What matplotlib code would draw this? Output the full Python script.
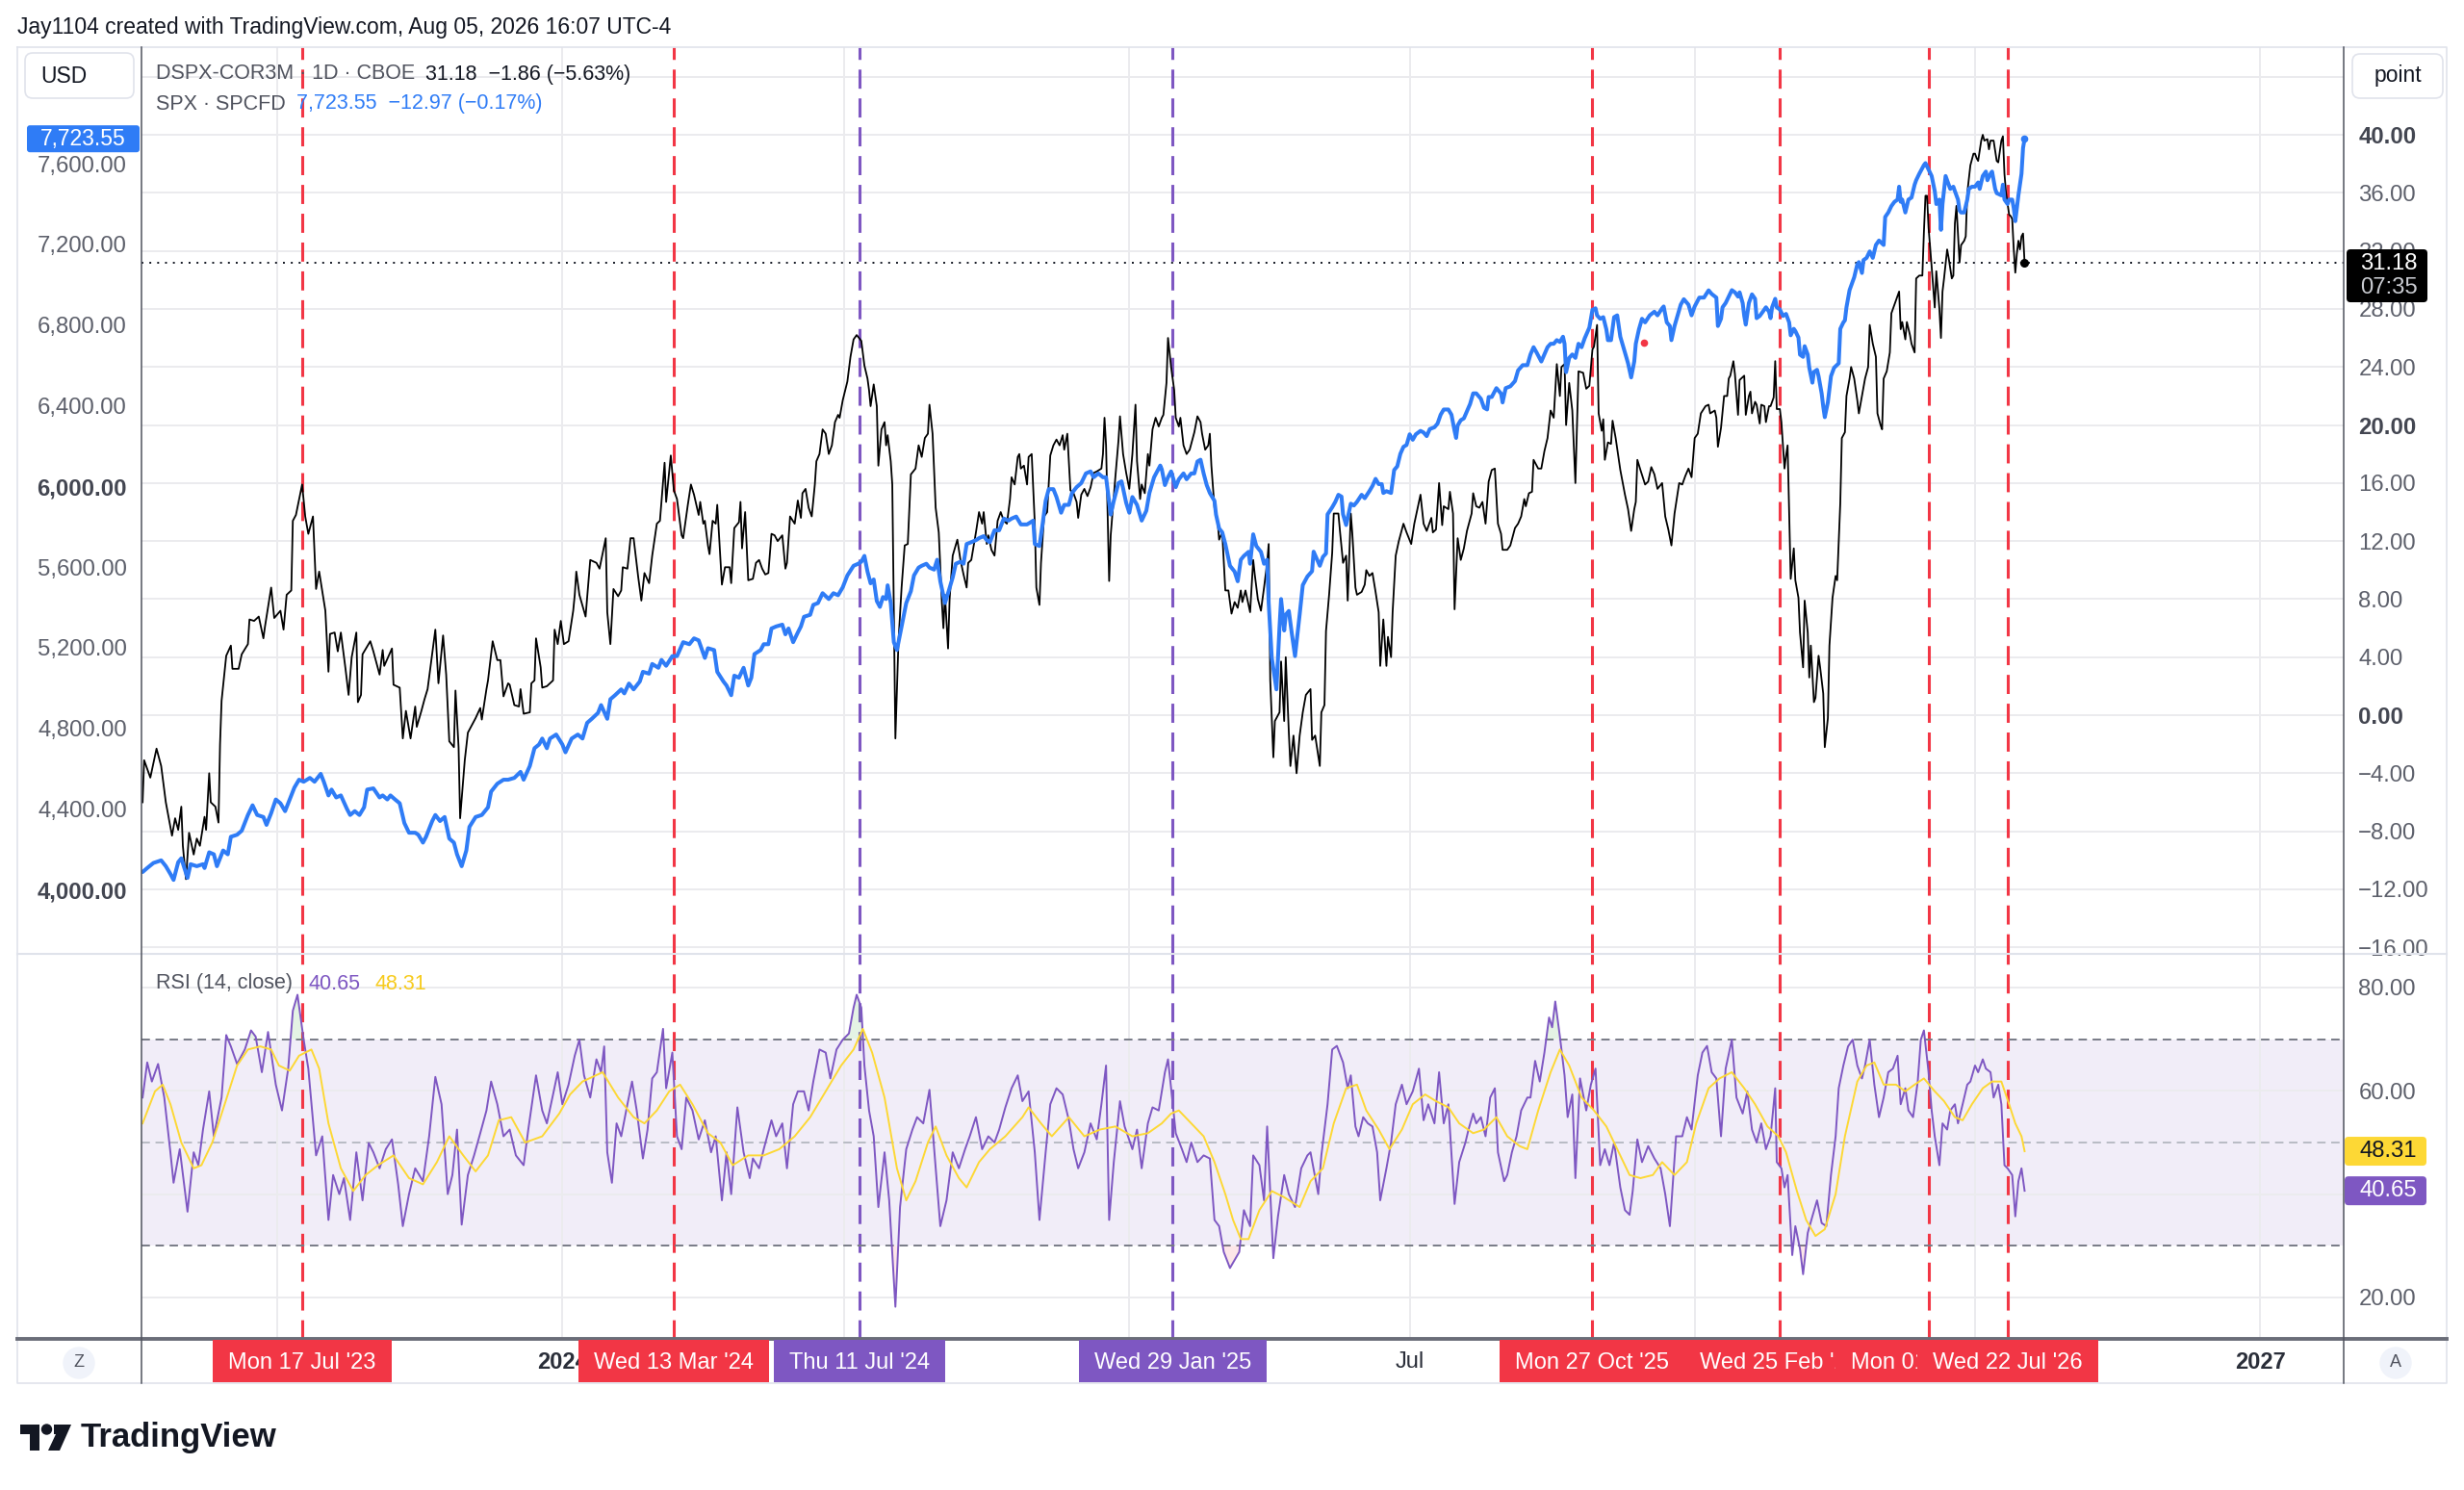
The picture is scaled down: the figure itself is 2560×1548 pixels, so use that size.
import numpy as np
import pandas as pd
import matplotlib
matplotlib.use("Agg")
import matplotlib.pyplot as plt
import matplotlib.dates as mdates
from matplotlib.lines import Line2D
from matplotlib.patches import Rectangle, FancyBboxPatch, Circle, Polygon
from matplotlib.text import Annotation
from matplotlib.transforms import IdentityTransform

# ---------------------------------------------------------------- data
# DSPX-COR3M (right scale, points)
dspx_dates = [
    "2023-04-05","2023-04-06","2023-04-10","2023-04-14","2023-04-17","2023-04-20","2023-04-24","2023-04-26","2023-04-28","2023-04-30",
    "2023-05-01","2023-05-03","2023-05-05","2023-05-08","2023-05-10","2023-05-12","2023-05-15","2023-05-16","2023-05-18","2023-05-19","2023-05-22","2023-05-24","2023-05-25","2023-05-26","2023-05-29",
    "2023-06-01","2023-06-02","2023-06-06","2023-06-08","2023-06-12","2023-06-13","2023-06-16","2023-06-19","2023-06-22","2023-06-23","2023-06-27","2023-06-29",
    "2023-07-03","2023-07-05","2023-07-07","2023-07-10","2023-07-11","2023-07-13","2023-07-17","2023-07-19","2023-07-21","2023-07-24","2023-07-26","2023-07-28",
    "2023-08-01","2023-08-03","2023-08-04","2023-08-07","2023-08-09","2023-08-11","2023-08-14","2023-08-16","2023-08-18","2023-08-21","2023-08-22","2023-08-24","2023-08-25","2023-08-30",
    "2023-09-01","2023-09-05","2023-09-07","2023-09-08","2023-09-13","2023-09-14","2023-09-18","2023-09-20","2023-09-22","2023-09-25","2023-09-28","2023-09-29",
    "2023-10-02","2023-10-04","2023-10-06","2023-10-11","2023-10-13","2023-10-16","2023-10-18","2023-10-20","2023-10-23","2023-10-24","2023-10-26","2023-10-27","2023-10-30",
    "2023-11-01","2023-11-06","2023-11-09","2023-11-10","2023-11-13","2023-11-14","2023-11-17","2023-11-20","2023-11-22","2023-11-24","2023-11-27","2023-11-28",
    "2023-12-01","2023-12-04","2023-12-05","2023-12-07","2023-12-11","2023-12-12","2023-12-14","2023-12-15","2023-12-18","2023-12-19","2023-12-22","2023-12-26","2023-12-27","2023-12-29","2023-12-31",
    "2024-01-02","2024-01-05","2024-01-08","2024-01-09","2024-01-10","2024-01-12","2024-01-16","2024-01-19","2024-01-23","2024-01-25","2024-01-29","2024-01-30",
    "2024-02-01","2024-02-03","2024-02-06","2024-02-08","2024-02-09","2024-02-12","2024-02-14","2024-02-16","2024-02-19","2024-02-21","2024-02-23","2024-02-26","2024-02-28",
    "2024-03-02","2024-03-04","2024-03-07","2024-03-08","2024-03-11","2024-03-13","2024-03-15","2024-03-18","2024-03-19","2024-03-22","2024-03-24","2024-03-26","2024-03-29","2024-03-30",
    "2024-04-01","2024-04-02","2024-04-04","2024-04-05","2024-04-07","2024-04-09","2024-04-10","2024-04-13","2024-04-15","2024-04-18","2024-04-19","2024-04-21","2024-04-24","2024-04-25","2024-04-26","2024-04-28","2024-04-30",
    "2024-05-03","2024-05-05","2024-05-07","2024-05-09","2024-05-11","2024-05-13","2024-05-15","2024-05-17","2024-05-19","2024-05-22","2024-05-24","2024-05-25","2024-05-27","2024-05-30",
    "2024-06-01","2024-06-03","2024-06-04","2024-06-06","2024-06-08","2024-06-10","2024-06-12","2024-06-13","2024-06-15","2024-06-17","2024-06-19","2024-06-21","2024-06-23","2024-06-25","2024-06-27","2024-06-28","2024-06-30",
    "2024-07-03","2024-07-05","2024-07-07","2024-07-09","2024-07-12","2024-07-14","2024-07-16","2024-07-17","2024-07-18","2024-07-20","2024-07-22","2024-07-23","2024-07-25","2024-07-27","2024-07-28","2024-07-29","2024-07-31",
    "2024-08-01","2024-08-03","2024-08-05","2024-08-07","2024-08-09","2024-08-11","2024-08-13","2024-08-16","2024-08-18","2024-08-20","2024-08-22","2024-08-24","2024-08-25","2024-08-27","2024-08-29","2024-08-31",
    "2024-09-02","2024-09-03","2024-09-04","2024-09-06","2024-09-07","2024-09-09","2024-09-12","2024-09-14","2024-09-16","2024-09-18","2024-09-19","2024-09-21","2024-09-24","2024-09-26","2024-09-28","2024-09-29",
    "2024-10-01","2024-10-02","2024-10-04","2024-10-06","2024-10-08","2024-10-10","2024-10-12","2024-10-14","2024-10-16","2024-10-17","2024-10-19","2024-10-21","2024-10-22","2024-10-23","2024-10-25","2024-10-27","2024-10-28","2024-10-30",
    "2024-11-01","2024-11-02","2024-11-04","2024-11-05","2024-11-07","2024-11-09","2024-11-11","2024-11-13","2024-11-15","2024-11-17","2024-11-19","2024-11-20","2024-11-22","2024-11-24","2024-11-26","2024-11-28","2024-11-29",
    "2024-12-01","2024-12-03","2024-12-05","2024-12-07","2024-12-09","2024-12-11","2024-12-14","2024-12-15","2024-12-16","2024-12-17","2024-12-19","2024-12-20","2024-12-23","2024-12-25","2024-12-26","2024-12-28","2024-12-30",
    "2025-01-01","2025-01-03","2025-01-05","2025-01-06","2025-01-08","2025-01-09","2025-01-11","2025-01-13","2025-01-14","2025-01-16","2025-01-18","2025-01-20","2025-01-22","2025-01-23","2025-01-25","2025-01-26","2025-01-28","2025-01-30","2025-01-31",
    "2025-02-02","2025-02-03","2025-02-05","2025-02-07","2025-02-09","2025-02-11","2025-02-12","2025-02-14","2025-02-16","2025-02-17","2025-02-19","2025-02-21","2025-02-22","2025-02-23","2025-02-25","2025-02-27","2025-02-28",
    "2025-03-02","2025-03-04","2025-03-06","2025-03-08","2025-03-10","2025-03-12","2025-03-14","2025-03-15","2025-03-17","2025-03-20","2025-03-22","2025-03-23","2025-03-25","2025-03-27","2025-03-29","2025-03-31",
    "2025-04-01","2025-04-02","2025-04-04","2025-04-05","2025-04-08","2025-04-09","2025-04-11","2025-04-12","2025-04-14","2025-04-15","2025-04-17","2025-04-19","2025-04-21","2025-04-23","2025-04-25","2025-04-28","2025-04-29",
    "2025-05-01","2025-05-04","2025-05-05","2025-05-07","2025-05-08","2025-05-10","2025-05-12","2025-05-13","2025-05-16","2025-05-17","2025-05-19","2025-05-21","2025-05-22","2025-05-24","2025-05-25","2025-05-27","2025-05-28","2025-05-31",
    "2025-06-02","2025-06-03","2025-06-05","2025-06-07","2025-06-09","2025-06-11","2025-06-12","2025-06-14","2025-06-16","2025-06-17","2025-06-19","2025-06-20","2025-06-22","2025-06-24","2025-06-27","2025-06-29",
    "2025-07-02","2025-07-04","2025-07-06","2025-07-08","2025-07-10","2025-07-12","2025-07-15","2025-07-16","2025-07-18","2025-07-20","2025-07-22","2025-07-23","2025-07-26","2025-07-27","2025-07-29","2025-07-30",
    "2025-08-01","2025-08-03","2025-08-05","2025-08-07","2025-08-10","2025-08-11","2025-08-13","2025-08-15","2025-08-17","2025-08-19","2025-08-21","2025-08-23","2025-08-25","2025-08-27","2025-08-29","2025-08-30",
    "2025-09-02","2025-09-04","2025-09-07","2025-09-09","2025-09-11","2025-09-13","2025-09-14","2025-09-16","2025-09-18","2025-09-19","2025-09-22","2025-09-24","2025-09-26","2025-09-28","2025-09-30",
    "2025-10-02","2025-10-04","2025-10-06","2025-10-07","2025-10-09","2025-10-10","2025-10-12","2025-10-14","2025-10-16","2025-10-18","2025-10-21","2025-10-23","2025-10-25","2025-10-27","2025-10-28","2025-10-30","2025-10-31",
    "2025-11-02","2025-11-03","2025-11-04","2025-11-06","2025-11-08","2025-11-09","2025-11-11","2025-11-14","2025-11-17","2025-11-19","2025-11-21","2025-11-23","2025-11-24","2025-11-25","2025-11-27","2025-11-30",
    "2025-12-02","2025-12-04","2025-12-06","2025-12-08","2025-12-11","2025-12-13","2025-12-15","2025-12-17","2025-12-19","2025-12-22","2025-12-24","2025-12-26","2025-12-28","2025-12-30",
    "2026-01-01","2026-01-03","2026-01-05","2026-01-08","2026-01-10","2026-01-11","2026-01-14","2026-01-15","2026-01-16","2026-01-18","2026-01-20","2026-01-22","2026-01-23","2026-01-24","2026-01-26","2026-01-27","2026-01-29","2026-01-30","2026-01-31",
    "2026-02-02","2026-02-03","2026-02-05","2026-02-06","2026-02-07","2026-02-09","2026-02-10","2026-02-12","2026-02-13","2026-02-15","2026-02-16","2026-02-18","2026-02-19","2026-02-21","2026-02-22","2026-02-23","2026-02-25","2026-02-26","2026-02-28",
    "2026-03-01","2026-03-02","2026-03-04","2026-03-06","2026-03-07","2026-03-09","2026-03-10","2026-03-12","2026-03-13","2026-03-15","2026-03-16","2026-03-17","2026-03-19","2026-03-20","2026-03-22","2026-03-23","2026-03-25","2026-03-26","2026-03-28","2026-03-29","2026-03-31",
    "2026-04-02","2026-04-03","2026-04-05","2026-04-06","2026-04-08","2026-04-09","2026-04-11","2026-04-12","2026-04-14","2026-04-16","2026-04-17","2026-04-19","2026-04-20","2026-04-21","2026-04-23","2026-04-24","2026-04-26","2026-04-28","2026-04-29",
    "2026-05-01","2026-05-02","2026-05-03","2026-05-05","2026-05-07","2026-05-08","2026-05-10","2026-05-13","2026-05-14","2026-05-15","2026-05-17","2026-05-18","2026-05-20","2026-05-21","2026-05-23","2026-05-24","2026-05-26","2026-05-28","2026-05-29","2026-05-30","2026-05-31",
    "2026-06-01","2026-06-03","2026-06-05","2026-06-06","2026-06-08","2026-06-09","2026-06-10","2026-06-11","2026-06-13","2026-06-14","2026-06-16","2026-06-17","2026-06-18","2026-06-19","2026-06-21","2026-06-22","2026-06-24","2026-06-25","2026-06-26","2026-06-28","2026-06-30",
    "2026-07-01","2026-07-02","2026-07-03","2026-07-05","2026-07-06","2026-07-07","2026-07-09","2026-07-10","2026-07-11","2026-07-13","2026-07-15","2026-07-16","2026-07-18","2026-07-19","2026-07-20","2026-07-21","2026-07-23","2026-07-24","2026-07-25","2026-07-26","2026-07-27","2026-07-28","2026-07-29","2026-07-30","2026-07-31",
    "2026-08-01","2026-08-02",
]
dspx_values = [
    -6.0,-3.1,-4.3,-2.3,-3.5,-6.0,-8.3,-7.1,-7.9,-6.3,
    -9.0,-11.3,-8.1,-9.6,-8.5,-9.0,-7.0,-7.9,-4.0,-6.0,-6.3,-7.4,-2.0,1.0,4.1,
    4.8,3.2,3.2,4.2,4.9,6.6,6.5,6.8,5.3,6.1,8.8,6.7,
    7.2,5.9,8.3,8.6,13.4,13.8,15.9,13.7,12.5,13.7,8.7,9.9,
    7.2,3.0,5.6,5.7,4.4,5.7,3.2,1.4,4.0,5.7,0.9,1.4,4.2,5.1,
    4.4,2.8,4.5,3.4,4.6,2.1,1.9,-1.6,0.3,-1.6,0.6,-0.8,
    0.3,1.1,1.8,5.9,2.2,5.5,2.8,-1.8,-2.2,1.7,-2.2,-7.1,-3.1,
    -1.2,-0.2,0.5,-0.3,1.8,2.4,5.1,3.8,3.8,1.3,2.2,2.1,
    0.7,0.6,1.8,0.1,0.2,2.2,2.4,5.3,3.3,1.9,2.0,2.4,5.9,4.9,6.5,
    4.9,5.1,7.2,8.3,9.9,8.3,6.8,10.7,10.5,10.1,12.2,7.1,
    4.9,8.7,8.2,8.6,10.2,10.1,12.2,12.2,9.5,7.9,9.8,9.1,11.0,
    13.2,13.4,17.4,14.7,17.9,15.5,14.9,12.4,12.2,14.5,15.9,15.2,13.8,14.7,
    13.2,13.4,11.7,11.1,13.4,13.2,14.5,9.0,10.2,10.2,9.1,12.9,13.3,14.7,11.5,14.0,9.3,
    9.4,10.5,10.7,10.1,9.7,9.8,12.5,12.4,12.0,12.4,10.1,10.5,13.7,13.2,
    14.8,13.6,15.3,15.6,14.3,13.7,15.9,17.5,18.0,19.7,19.4,18.0,18.6,20.2,20.7,20.5,21.7,
    23.0,24.7,25.9,26.2,25.8,24.1,23.2,22.4,21.3,22.8,21.3,17.2,19.7,20.2,18.6,19.3,17.5,
    15.9,-1.6,5.1,8.8,11.7,11.8,16.6,17.0,18.6,17.8,19.1,19.4,21.4,19.4,14.3,12.6,
    7.8,6.0,8.3,4.6,8.0,11.0,12.1,10.7,9.7,8.8,10.5,10.7,12.6,14.0,13.2,14.0,
    11.8,12.4,11.4,11.0,13.4,14.0,13.4,13.2,14.9,16.4,15.9,17.8,18.0,17.0,17.2,15.9,17.8,18.0,
    13.2,8.8,7.6,10.5,13.7,14.0,17.9,18.6,19.0,18.6,19.3,18.3,19.4,15.5,15.3,14.7,13.6,
    15.2,15.6,15.1,15.7,16.7,16.8,17.0,18.0,20.5,18.6,9.25,12.4,16.4,18.9,20.6,18.0,16.7,
    15.6,18.0,21.4,17.5,14.9,15.9,15.3,18.0,17.2,19.7,20.5,19.9,20.5,20.7,22.9,26.0,24.0,22.4,20.5,
    19.9,20.5,18.6,18.0,18.3,19.1,19.5,20.6,20.2,19.4,18.3,18.6,19.4,17.2,14.3,13.4,12.1,
    12.6,8.6,8.6,7.0,7.8,7.4,8.6,7.8,8.6,7.1,10.7,9.7,8.0,7.2,8.8,10.5,
    11.8,2.4,-2.9,-0.4,0.2,3.7,-0.4,4.0,-1.2,-3.5,-1.4,-4.0,-1.4,0.2,1.4,1.8,-1.7,
    -1.4,-3.5,0.2,0.7,5.8,8.3,11.2,13.9,13.9,12.7,10.5,11.0,7.9,13.9,12.5,8.8,8.3,8.5,
    9.0,10.0,9.6,9.8,8.5,7.1,3.4,6.6,3.4,5.4,4.0,7.1,11.0,12.0,13.2,12.6,
    11.8,13.2,14.2,15.2,13.2,12.7,13.6,12.6,12.8,16.0,13.1,14.4,14.2,15.4,13.9,7.3,
    12.2,10.7,11.5,12.7,13.9,15.3,14.4,14.3,14.7,13.2,16.1,16.9,17.0,13.2,12.5,11.4,
    11.4,11.7,12.9,13.2,13.7,14.9,14.4,15.3,15.4,17.6,17.0,17.0,18.2,19.1,21.0,
    20.5,24.2,22.0,24.0,24.2,20.0,22.9,21.0,16.0,23.7,23.6,22.5,22.7,25.2,25.4,26.9,20.8,
    19.6,20.4,17.6,18.8,18.7,20.3,19.1,16.9,15.2,14.2,12.7,14.2,14.7,17.6,16.9,15.9,
    16.1,17.1,16.6,15.6,16.0,13.7,12.8,11.7,13.9,16.0,15.9,16.5,17.0,16.4,
    19.1,19.4,20.8,21.3,21.4,20.8,21.0,20.5,18.5,19.8,22.0,22.0,23.2,23.4,24.4,23.5,20.7,23.1,23.2,
    23.4,20.7,22.0,22.3,20.8,21.6,21.4,20.1,21.4,21.3,20.2,21.3,21.3,21.9,24.4,21.1,21.1,20.2,17.0,
    17.9,18.6,9.4,11.5,9.3,8.1,5.7,3.3,7.9,5.7,2.6,4.8,0.9,1.2,4.1,3.3,1.5,-2.2,-0.2,4.8,8.1,
    9.6,9.3,14.6,19.1,19.5,22.0,23.2,24.0,23.2,21.7,20.8,22.0,22.6,23.2,24.0,26.9,25.6,24.7,20.8,
    20.0,19.7,23.2,23.7,25.0,27.7,28.3,29.2,26.6,27.1,25.9,27.1,26.2,25.6,25.0,30.1,30.3,30.3,33.3,35.8,35.8,
    33.6,30.9,28.1,30.6,28.0,26.0,29.2,30.1,32.1,31.5,30.1,30.3,33.9,35.1,31.2,32.4,32.7,33.0,36.0,37.9,38.7,
    38.7,38.4,38.2,39.6,40.0,39.6,39.7,39.0,39.6,39.6,38.2,38.1,39.6,39.9,37.3,36.0,34.5,34.4,34.2,32.1,30.5,31.8,32.7,32.1,33.0,
    33.2,31.18,
]

# SPX (left scale, USD)
spx_dates = [
    "2023-04-05","2023-04-08","2023-04-12","2023-04-17","2023-04-20","2023-04-23","2023-04-25","2023-04-28","2023-04-30",
    "2023-05-04","2023-05-06","2023-05-10","2023-05-14","2023-05-15","2023-05-18","2023-05-21","2023-05-23","2023-05-27","2023-05-30",
    "2023-06-01","2023-06-05","2023-06-08","2023-06-12","2023-06-15","2023-06-18","2023-06-22","2023-06-24","2023-06-27","2023-06-30",
    "2023-07-03","2023-07-06","2023-07-09","2023-07-12","2023-07-15","2023-07-18","2023-07-22","2023-07-25","2023-07-29","2023-07-31",
    "2023-08-03","2023-08-05","2023-08-08","2023-08-11","2023-08-15","2023-08-17","2023-08-20","2023-08-23","2023-08-26","2023-08-28",
    "2023-09-01","2023-09-05","2023-09-07","2023-09-10","2023-09-12","2023-09-15","2023-09-18","2023-09-21","2023-09-24","2023-09-28","2023-09-30",
    "2023-10-03","2023-10-05","2023-10-09","2023-10-11","2023-10-14","2023-10-17","2023-10-20","2023-10-23","2023-10-25","2023-10-28","2023-10-31",
    "2023-11-02","2023-11-06","2023-11-10","2023-11-14","2023-11-16","2023-11-20","2023-11-24","2023-11-27",
    "2023-12-01","2023-12-05","2023-12-07","2023-12-11","2023-12-14","2023-12-17","2023-12-19","2023-12-22","2023-12-24","2023-12-28",
    "2024-01-01","2024-01-03","2024-01-07","2024-01-11","2024-01-14","2024-01-17","2024-01-20","2024-01-24","2024-01-26","2024-01-30",
    "2024-02-01","2024-02-04","2024-02-08","2024-02-10","2024-02-13","2024-02-16","2024-02-20","2024-02-22","2024-02-26","2024-02-28",
    "2024-03-03","2024-03-05","2024-03-08","2024-03-12","2024-03-15","2024-03-19","2024-03-23","2024-03-26","2024-03-29",
    "2024-04-02","2024-04-04","2024-04-08","2024-04-10","2024-04-14","2024-04-16","2024-04-19","2024-04-21","2024-04-24","2024-04-27","2024-04-30",
    "2024-05-02","2024-05-04","2024-05-08","2024-05-10","2024-05-13","2024-05-15","2024-05-18","2024-05-22","2024-05-24","2024-05-26","2024-05-29",
    "2024-06-01","2024-06-03","2024-06-05","2024-06-09","2024-06-11","2024-06-14","2024-06-17","2024-06-21","2024-06-24","2024-06-27","2024-06-30",
    "2024-07-03","2024-07-07","2024-07-10","2024-07-12","2024-07-14","2024-07-16","2024-07-18","2024-07-20","2024-07-22","2024-07-24","2024-07-26","2024-07-28","2024-07-29","2024-07-31",
    "2024-08-02","2024-08-04","2024-08-06","2024-08-08","2024-08-10","2024-08-13","2024-08-15","2024-08-18","2024-08-20","2024-08-23","2024-08-25","2024-08-28","2024-08-30",
    "2024-09-01","2024-09-04","2024-09-06","2024-09-09","2024-09-11","2024-09-14","2024-09-16","2024-09-18","2024-09-21","2024-09-24","2024-09-26","2024-09-29",
    "2024-10-01","2024-10-03","2024-10-06","2024-10-09","2024-10-12","2024-10-15","2024-10-17","2024-10-20","2024-10-23","2024-10-27","2024-10-31",
    "2024-11-01","2024-11-04","2024-11-06","2024-11-08","2024-11-10","2024-11-13","2024-11-15","2024-11-18","2024-11-20","2024-11-23","2024-11-25","2024-11-28",
    "2024-12-01","2024-12-04","2024-12-07","2024-12-09","2024-12-12","2024-12-15","2024-12-17","2024-12-20","2024-12-22","2024-12-25","2024-12-27","2024-12-30",
    "2025-01-01","2025-01-03","2025-01-06","2025-01-09","2025-01-12","2025-01-14","2025-01-17","2025-01-21","2025-01-22","2025-01-24","2025-01-26","2025-01-28","2025-01-31",
    "2025-02-02","2025-02-05","2025-02-07","2025-02-10","2025-02-12","2025-02-14","2025-02-16","2025-02-18","2025-02-20","2025-02-22","2025-02-25","2025-02-26","2025-02-28",
    "2025-03-02","2025-03-04","2025-03-07","2025-03-10","2025-03-12","2025-03-14","2025-03-16","2025-03-19","2025-03-20","2025-03-22","2025-03-24","2025-03-27","2025-03-29","2025-03-31",
    "2025-04-01","2025-04-03","2025-04-06","2025-04-08","2025-04-09","2025-04-11","2025-04-12","2025-04-14","2025-04-16","2025-04-18","2025-04-21","2025-04-23","2025-04-26","2025-04-29","2025-04-30",
    "2025-05-02","2025-05-04","2025-05-06","2025-05-08","2025-05-09","2025-05-12","2025-05-14","2025-05-16","2025-05-18","2025-05-19","2025-05-21","2025-05-24","2025-05-26","2025-05-28","2025-05-31",
    "2025-06-02","2025-06-05","2025-06-07","2025-06-09","2025-06-11","2025-06-13","2025-06-14","2025-06-16","2025-06-19","2025-06-21","2025-06-23","2025-06-25","2025-06-27","2025-06-29",
    "2025-07-01","2025-07-03","2025-07-05","2025-07-08","2025-07-10","2025-07-12","2025-07-14","2025-07-17","2025-07-19","2025-07-21","2025-07-23","2025-07-26","2025-07-28","2025-07-30","2025-07-31",
    "2025-08-01","2025-08-03","2025-08-05","2025-08-07","2025-08-09","2025-08-11","2025-08-13","2025-08-15","2025-08-16","2025-08-18","2025-08-20","2025-08-21","2025-08-23","2025-08-26","2025-08-29","2025-08-30",
    "2025-09-01","2025-09-04","2025-09-07","2025-09-09","2025-09-12","2025-09-15","2025-09-17","2025-09-19","2025-09-21","2025-09-24","2025-09-26","2025-09-28","2025-09-30",
    "2025-10-02","2025-10-04","2025-10-06","2025-10-08","2025-10-09","2025-10-10","2025-10-12","2025-10-14","2025-10-16","2025-10-18","2025-10-20","2025-10-22","2025-10-25","2025-10-27","2025-10-29","2025-10-30",
    "2025-11-01","2025-11-03","2025-11-05","2025-11-06","2025-11-08","2025-11-10","2025-11-12","2025-11-14","2025-11-16","2025-11-18","2025-11-19","2025-11-21","2025-11-23","2025-11-24","2025-11-26","2025-11-28","2025-11-30",
    "2025-12-03","2025-12-06","2025-12-08","2025-12-11","2025-12-12","2025-12-14","2025-12-16","2025-12-17","2025-12-19","2025-12-21","2025-12-23","2025-12-25","2025-12-28","2025-12-30",
    "2026-01-01","2026-01-04","2026-01-07","2026-01-10","2026-01-12","2026-01-15","2026-01-16","2026-01-18","2026-01-19","2026-01-21","2026-01-23","2026-01-25","2026-01-27","2026-01-29","2026-01-30",
    "2026-02-01","2026-02-02","2026-02-03","2026-02-05","2026-02-07","2026-02-09","2026-02-10","2026-02-12","2026-02-14","2026-02-16","2026-02-18","2026-02-19","2026-02-20","2026-02-22","2026-02-23","2026-02-25","2026-02-27",
    "2026-03-01","2026-03-03","2026-03-04","2026-03-06","2026-03-07","2026-03-09","2026-03-10","2026-03-12","2026-03-13","2026-03-15","2026-03-16","2026-03-18","2026-03-19","2026-03-21","2026-03-22","2026-03-24","2026-03-25","2026-03-26","2026-03-28","2026-03-30",
    "2026-04-01","2026-04-04","2026-04-05","2026-04-07","2026-04-08","2026-04-09","2026-04-11","2026-04-12","2026-04-14","2026-04-16","2026-04-17","2026-04-19","2026-04-20","2026-04-22","2026-04-24","2026-04-26","2026-04-28","2026-04-30",
    "2026-05-03","2026-05-04","2026-05-06","2026-05-08","2026-05-10","2026-05-12","2026-05-13","2026-05-14","2026-05-15","2026-05-17","2026-05-19","2026-05-21","2026-05-23","2026-05-24","2026-05-26","2026-05-29","2026-05-30",
    "2026-06-01","2026-06-03","2026-06-05","2026-06-06","2026-06-08","2026-06-09","2026-06-10","2026-06-12","2026-06-13","2026-06-15","2026-06-17","2026-06-18","2026-06-20","2026-06-21","2026-06-22","2026-06-24","2026-06-26","2026-06-27","2026-06-29",
    "2026-07-01","2026-07-03","2026-07-04","2026-07-06","2026-07-08","2026-07-09","2026-07-11","2026-07-12","2026-07-14","2026-07-15","2026-07-18","2026-07-19","2026-07-20","2026-07-22","2026-07-23","2026-07-25","2026-07-26","2026-07-27","2026-07-28","2026-07-29","2026-07-31",
    "2026-08-01","2026-08-02",
]
spx_values = [
    4087,4107,4132,4145,4116,4077,4048,4136,4155,
    4058,4126,4116,4126,4107,4185,4175,4116,4194,4175,
    4262,4272,4292,4370,4418,4370,4360,4321,4379,4447,
    4428,4389,4447,4506,4545,4535,4554,4535,4574,4535,
    4467,4496,4457,4467,4399,4370,4389,4370,4408,4496,
    4502,4457,4467,4447,4467,4447,4428,4330,4282,4282,4272,
    4233,4262,4340,4370,4340,4360,4253,4233,4175,4116,4194,
    4311,4360,4370,4408,4486,4525,4545,4545,
    4554,4584,4545,4613,4701,4720,4749,4701,4749,4769,
    4720,4681,4749,4769,4749,4827,4847,4876,4915,4847,
    4944,4964,4993,4973,5022,4993,5032,5080,5071,5119,
    5100,5139,5110,5158,5158,5227,5217,5246,5236,
    5149,5197,5188,5080,5032,5012,4964,5061,5051,5100,5012,
    5051,5168,5188,5217,5217,5295,5305,5314,5266,5295,5227,
    5275,5305,5353,5363,5412,5421,5470,5441,5470,5460,5499,
    5558,5606,5616,5626,5655,5577,5519,5538,5431,5402,5451,5441,5509,5421,
    5227,5188,5266,5343,5421,5480,5558,5597,5606,5616,5597,5587,5636,
    5529,5421,5470,5548,5616,5626,5616,5714,5723,5733,5743,5753,
    5733,5723,5782,5782,5840,5830,5840,5850,5811,5811,5830,
    5714,5704,5811,5928,5986,5986,5947,5869,5908,5908,5967,5996,
    6016,6064,6074,6045,6064,6045,6045,5860,5928,6016,6025,5918,
    5869,5947,5908,5830,5879,5967,6045,6103,6084,6006,6045,6074,5996,
    6035,6064,6035,6064,6064,6123,6132,6064,6006,5967,5928,5860,5791,
    5772,5714,5606,5577,5529,5636,5655,5675,5616,5762,5704,5675,5616,5636,
    5421,5149,4993,5305,5441,5285,5363,5382,5266,5158,5365,5510,5553,5579,5676,
    5641,5606,5650,5667,5861,5896,5923,5958,5949,5861,5808,5914,5905,5923,5958,
    5941,5976,6002,6037,6011,6011,5967,5976,5967,6081,6099,6161,6196,6205,
    6258,6231,6258,6275,6267,6249,6284,6293,6311,6355,6381,6381,6355,6275,6240,
    6302,6328,6337,6372,6408,6461,6461,6443,6434,6390,6381,6443,6443,6487,6460,6416,
    6487,6496,6522,6575,6601,6601,6654,6690,6663,6619,6654,6690,6707,
    6707,6725,6716,6742,6707,6566,6637,6654,6637,6707,6690,6734,6787,6875,6883,6848,
    6831,6839,6778,6725,6725,6839,6848,6742,6690,6637,6610,6540,6619,6707,6778,6831,6813,
    6848,6866,6848,6883,6892,6813,6795,6725,6795,6848,6901,6928,6901,6848,
    6892,6936,6936,6972,6954,6936,6795,6831,6888,6909,6941,6973,6962,6941,6962,
    6909,6845,6802,6909,6952,6930,6834,6845,6866,6888,6866,6834,6888,6930,6888,6877,6845,
    6855,6813,6749,6781,6770,6738,6653,6642,6695,6653,6588,6514,6567,6578,6546,6460,6396,6343,6417,6546,
    6588,6610,6781,6813,6823,6888,6973,6994,7037,7101,7112,7058,7122,7133,7165,7133,7197,7219,
    7197,7336,7358,7390,7411,7422,7486,7411,7422,7358,7422,7432,7496,7518,7550,7593,7603,
    7571,7539,7464,7400,7422,7272,7400,7539,7518,7475,7486,7464,7422,7368,7358,7358,7422,7475,7486,
    7486,7507,7475,7539,7561,7518,7550,7561,7475,7454,7443,7496,7422,7400,7422,7422,7379,7315,7379,7443,7550,
    7678,7723.55,
]

# RSI (14, close) and its moving average
rsi_dates = [
    "2023-04-05","2023-04-08","2023-04-11","2023-04-15","2023-04-19","2023-04-23","2023-04-25","2023-04-29",
    "2023-05-04","2023-05-08","2023-05-11","2023-05-14","2023-05-18","2023-05-21","2023-05-26","2023-05-29",
    "2023-06-01","2023-06-05","2023-06-10","2023-06-14","2023-06-17","2023-06-21","2023-06-25","2023-06-30",
    "2023-07-04","2023-07-08","2023-07-11","2023-07-14","2023-07-18","2023-07-21","2023-07-26","2023-07-30",
    "2023-08-03","2023-08-06","2023-08-10","2023-08-13","2023-08-17","2023-08-21","2023-08-25","2023-08-29",
    "2023-09-01","2023-09-05","2023-09-09","2023-09-13","2023-09-17","2023-09-20","2023-09-24","2023-09-28",
    "2023-10-03","2023-10-07","2023-10-11","2023-10-15","2023-10-19","2023-10-22","2023-10-25","2023-10-28",
    "2023-11-01","2023-11-05","2023-11-09","2023-11-13","2023-11-16","2023-11-20","2023-11-24","2023-11-28",
    "2023-12-02","2023-12-07","2023-12-10","2023-12-15","2023-12-19","2023-12-22","2023-12-26","2023-12-29",
    "2024-01-01","2024-01-05","2024-01-09","2024-01-12","2024-01-15","2024-01-19","2024-01-23","2024-01-26","2024-01-28","2024-01-30",
    "2024-02-02","2024-02-05","2024-02-08","2024-02-12","2024-02-15","2024-02-18","2024-02-22","2024-02-25","2024-02-28",
    "2024-03-02","2024-03-06","2024-03-08","2024-03-12","2024-03-15","2024-03-18","2024-03-21","2024-03-25","2024-03-29",
    "2024-04-02","2024-04-06","2024-04-09","2024-04-13","2024-04-16","2024-04-19","2024-04-23","2024-04-27",
    "2024-05-01","2024-05-03","2024-05-07","2024-05-10","2024-05-15","2024-05-18","2024-05-22","2024-05-25","2024-05-29",
    "2024-06-01","2024-06-05","2024-06-08","2024-06-11","2024-06-15","2024-06-19","2024-06-22","2024-06-26","2024-06-30",
    "2024-07-04","2024-07-07","2024-07-09","2024-07-12","2024-07-14","2024-07-17","2024-07-20","2024-07-23","2024-07-27","2024-07-30",
    "2024-08-03","2024-08-06","2024-08-10","2024-08-14","2024-08-17","2024-08-21","2024-08-25","2024-08-29",
    "2024-09-01","2024-09-05","2024-09-09","2024-09-13","2024-09-17","2024-09-20","2024-09-24","2024-09-28",
    "2024-10-02","2024-10-06","2024-10-09","2024-10-13","2024-10-17","2024-10-21","2024-10-24","2024-10-28",
    "2024-11-01","2024-11-04","2024-11-08","2024-11-11","2024-11-15","2024-11-19","2024-11-23","2024-11-26","2024-11-29",
    "2024-12-03","2024-12-07","2024-12-11","2024-12-14","2024-12-17","2024-12-19","2024-12-22","2024-12-26","2024-12-29",
    "2025-01-03","2025-01-06","2025-01-09","2025-01-13","2025-01-16","2025-01-20","2025-01-24","2025-01-26","2025-01-28","2025-01-31",
    "2025-02-04","2025-02-07","2025-02-10","2025-02-14","2025-02-18","2025-02-22","2025-02-25","2025-02-28",
    "2025-03-03","2025-03-07","2025-03-13","2025-03-16","2025-03-20","2025-03-22","2025-03-26","2025-03-29","2025-03-31",
    "2025-04-04","2025-04-07","2025-04-11","2025-04-14","2025-04-18","2025-04-22","2025-04-26","2025-04-28",
    "2025-05-03","2025-05-05","2025-05-09","2025-05-12","2025-05-15","2025-05-19","2025-05-22","2025-05-24","2025-05-27","2025-05-29",
    "2025-06-01","2025-06-04","2025-06-07","2025-06-10","2025-06-12","2025-06-16","2025-06-19","2025-06-22","2025-06-26","2025-06-29",
    "2025-07-03","2025-07-07","2025-07-10","2025-07-13","2025-07-17","2025-07-20","2025-07-23","2025-07-26","2025-07-30",
    "2025-08-02","2025-08-06","2025-08-08","2025-08-11","2025-08-13","2025-08-16","2025-08-19","2025-08-22","2025-08-25","2025-08-27","2025-08-31",
    "2025-09-02","2025-09-05","2025-09-08","2025-09-11","2025-09-15","2025-09-17","2025-09-20","2025-09-23","2025-09-26","2025-09-29",
    "2025-10-01","2025-10-03","2025-10-06","2025-10-09","2025-10-11","2025-10-14","2025-10-16","2025-10-19","2025-10-23","2025-10-26","2025-10-29",
    "2025-11-01","2025-11-04","2025-11-07","2025-11-10","2025-11-14","2025-11-17","2025-11-20","2025-11-22","2025-11-25","2025-11-28",
    "2025-12-02","2025-12-06","2025-12-10","2025-12-13","2025-12-16","2025-12-20","2025-12-24","2025-12-27","2025-12-30",
    "2026-01-03","2026-01-06","2026-01-09","2026-01-12","2026-01-15","2026-01-18","2026-01-21","2026-01-25","2026-01-28",
    "2026-02-01","2026-02-04","2026-02-07","2026-02-10","2026-02-13","2026-02-16","2026-02-19","2026-02-22","2026-02-23","2026-02-26","2026-02-28",
    "2026-03-02","2026-03-05","2026-03-07","2026-03-10","2026-03-12","2026-03-15","2026-03-18","2026-03-21","2026-03-24","2026-03-27","2026-03-30",
    "2026-04-02","2026-04-04","2026-04-07","2026-04-10","2026-04-13","2026-04-16","2026-04-19","2026-04-21","2026-04-24","2026-04-27","2026-04-30",
    "2026-05-03","2026-05-06","2026-05-09","2026-05-12","2026-05-14","2026-05-17","2026-05-19","2026-05-22","2026-05-25","2026-05-27","2026-05-29",
    "2026-06-01","2026-06-03","2026-06-05","2026-06-08","2026-06-10","2026-06-13","2026-06-15","2026-06-18","2026-06-20","2026-06-23","2026-06-26","2026-06-28",
    "2026-07-01","2026-07-03","2026-07-06","2026-07-08","2026-07-11","2026-07-13","2026-07-16","2026-07-18","2026-07-20","2026-07-22","2026-07-25","2026-07-27","2026-07-29","2026-07-31",
    "2026-08-02",
]
rsi_values = [
    58.7,65.5,61.8,65.2,58.7,48.0,42.2,48.7,
    36.6,48.1,45.6,52.5,59.9,51.2,58.7,70.8,
    68.6,65.2,68.0,71.7,70.5,63.6,71.4,61.2,
    56.2,64.3,75.5,78.6,69.9,64.3,47.5,51.2,
    35.0,43.7,40.0,43.1,35.0,48.1,38.8,49.9,
    48.1,45.0,48.7,50.6,41.9,33.8,40.0,45.0,
    42.5,51.2,62.7,57.4,40.0,43.7,52.5,34.1,
    43.7,47.5,51.8,56.2,61.8,57.4,51.2,52.5,
    47.5,45.6,52.5,63.0,56.2,53.7,59.3,63.6,
    57.4,61.2,66.8,69.9,63.0,58.7,66.1,63.6,68.6,48.1,
    42.2,53.7,51.2,57.4,61.8,56.2,46.9,52.5,62.4,
    63.6,72.0,60.5,67.4,51.2,48.7,58.7,56.2,50.6,
    54.3,48.1,51.2,38.8,48.1,40.0,56.8,48.1,
    43.1,46.9,45.0,48.7,54.3,51.2,53.7,45.0,57.4,
    59.9,59.9,56.2,61.8,68.0,67.4,62.4,68.0,69.9,
    71.1,76.1,78.6,76.1,64.9,56.2,51.2,37.5,48.1,38.8,
    18.2,37.5,48.7,52.5,54.9,53.7,60.2,45.0,
    33.8,38.8,48.1,45.0,48.7,51.2,54.9,48.7,
    51.2,50.0,52.5,56.8,60.5,63.0,58.0,59.9,
    48.1,35.0,48.1,57.4,60.5,59.3,54.3,48.7,45.0,
    48.1,53.7,50.6,57.4,64.9,35.0,46.2,58.0,53.1,
    48.7,52.5,45.0,53.7,56.8,56.2,63.6,66.1,60.5,51.8,
    48.7,46.2,50.0,46.2,47.5,46.9,35.0,33.8,
    28.8,25.7,28.8,36.9,33.8,47.5,45.6,38.8,53.1,
    27.6,35.7,43.7,40.0,37.5,45.0,47.5,48.1,
    40.0,47.5,57.4,68.0,68.7,65.5,60.5,63.0,53.1,51.2,
    54.9,53.7,53.1,48.1,38.8,45.0,50.0,57.4,61.2,57.4,
    59.9,64.3,54.3,57.4,53.7,63.6,53.7,57.4,38.1,
    46.2,50.0,52.5,55.6,53.7,54.9,51.2,58.7,60.5,48.1,42.5,
    43.7,48.1,51.2,56.2,58.7,58.7,65.8,61.8,67.4,74.2,
    72.3,77.3,70.5,63.0,54.9,59.3,43.1,62.4,56.2,61.2,64.3,
    45.6,48.7,45.6,50.0,41.3,36.9,36.0,40.6,50.6,46.2,
    49.3,46.9,45.0,40.0,33.8,51.2,51.2,54.9,52.5,
    63.0,67.4,68.7,63.6,62.4,51.2,64.3,69.9,58.7,
    55.6,59.9,52.5,50.0,53.7,48.7,51.2,60.5,46.2,45.0,41.3,
    43.7,28.2,33.8,29.4,24.5,32.5,35.7,38.8,34.4,33.8,43.7,
    51.2,60.5,64.9,68.6,69.9,64.9,62.4,64.9,69.9,61.2,54.9,
    58.7,63.6,64.3,66.8,57.4,60.5,56.2,54.9,61.8,69.9,71.7,
    63.6,56.2,51.2,45.6,53.7,52.5,56.2,57.4,53.7,57.4,61.2,61.8,
    64.9,63.6,66.1,64.3,63.6,58.7,61.2,57.4,45.6,45.0,43.7,35.7,42.5,45.0,
    40.65,
]
rsi_ma_dates = [
    "2023-04-05","2023-04-13","2023-04-18","2023-04-23","2023-04-30","2023-05-08","2023-05-13","2023-05-20","2023-05-28",
    "2023-06-05","2023-06-12","2023-06-20","2023-06-27","2023-07-02","2023-07-09","2023-07-15","2023-07-23","2023-07-28",
    "2023-08-03","2023-08-11","2023-08-19","2023-08-27","2023-09-04","2023-09-14","2023-09-24",
    "2023-10-03","2023-10-12","2023-10-20","2023-10-29","2023-11-06","2023-11-14","2023-11-21","2023-11-29",
    "2023-12-08","2023-12-19","2023-12-30","2024-01-06","2024-01-14","2024-01-27","2024-02-06","2024-02-16","2024-02-23",
    "2024-03-02","2024-03-10","2024-03-17","2024-03-25","2024-04-04","2024-04-12","2024-04-20","2024-04-30",
    "2024-05-10","2024-05-20","2024-05-30","2024-06-09","2024-06-19","2024-06-29",
    "2024-07-07","2024-07-13","2024-07-19","2024-07-27","2024-08-04","2024-08-10","2024-08-16","2024-08-24","2024-08-29",
    "2024-09-05","2024-09-13","2024-09-18","2024-09-26","2024-10-03","2024-10-13","2024-10-24","2024-10-28",
    "2024-11-05","2024-11-12","2024-11-23","2024-12-03","2024-12-13","2024-12-23",
    "2025-01-03","2025-01-13","2025-01-22","2025-01-28","2025-02-02","2025-02-10","2025-02-18","2025-02-25",
    "2025-03-04","2025-03-09","2025-03-14","2025-03-19","2025-03-26","2025-04-03","2025-04-11","2025-04-21","2025-04-28",
    "2025-05-06","2025-05-13","2025-05-21","2025-05-28","2025-06-03","2025-06-11","2025-06-18","2025-06-26",
    "2025-07-03","2025-07-11","2025-07-18","2025-07-26","2025-08-02","2025-08-11","2025-08-18","2025-08-26",
    "2025-09-02","2025-09-10","2025-09-15","2025-09-22","2025-09-30","2025-10-06","2025-10-12","2025-10-20","2025-10-28",
    "2025-11-05","2025-11-12","2025-11-20","2025-11-27","2025-12-05","2025-12-11","2025-12-19","2025-12-27",
    "2026-01-02","2026-01-10","2026-01-17","2026-01-25","2026-02-02","2026-02-09","2026-02-17","2026-02-24",
    "2026-03-01","2026-03-08","2026-03-14","2026-03-20","2026-03-26","2026-04-02","2026-04-08","2026-04-16","2026-04-22","2026-04-27",
    "2026-05-03","2026-05-11","2026-05-17","2026-05-23","2026-05-29","2026-06-05","2026-06-11","2026-06-18","2026-06-23","2026-06-29",
    "2026-07-06","2026-07-12","2026-07-18","2026-07-23","2026-07-27","2026-07-31","2026-08-02",
]
rsi_ma_values = [
    53.7,59.9,61.2,57.4,50.0,45.0,45.6,50.0,57.4,
    64.9,68.0,68.6,68.0,64.9,63.9,66.8,68.0,64.3,
    53.7,45.0,40.6,43.7,45.6,47.5,43.1,
    41.9,46.2,51.2,47.5,44.4,47.5,54.3,54.9,
    50.0,51.2,55.6,59.3,61.8,63.6,58.7,54.9,53.7,
    56.2,59.9,61.2,57.4,51.8,50.0,45.6,47.5,
    47.5,48.7,51.2,54.9,59.9,64.9,
    68.0,72.0,67.4,58.7,45.0,38.8,42.5,50.0,53.1,
    47.5,43.1,41.3,46.2,48.7,51.2,54.9,56.8,
    53.7,51.2,54.9,51.2,52.5,53.1,
    51.2,51.8,53.7,55.6,56.2,53.7,51.2,46.2,
    40.0,35.0,31.3,31.3,36.9,40.6,39.4,37.5,42.5,
    45.0,53.7,60.5,61.2,56.2,52.5,48.7,52.5,
    57.4,59.3,58.0,56.8,53.7,51.8,52.5,54.9,
    51.2,49.3,48.7,56.2,63.6,68.0,64.9,58.7,56.2,
    53.1,48.7,43.7,43.1,43.7,46.2,43.7,46.2,
    53.7,60.5,62.4,63.6,60.5,57.4,53.1,51.2,
    48.1,40.6,35.0,31.9,33.2,40.0,51.2,61.8,64.9,65.5,
    61.2,61.2,59.9,61.2,62.4,59.9,58.0,54.9,54.3,57.4,
    60.5,61.8,61.8,57.4,53.7,51.2,48.31,
]

# marked events (vertical lines and date tags)
event_dates = ["2023-07-17", "2024-03-13", "2024-07-11", "2025-01-29",
               "2025-10-27", "2026-02-25", "2026-06-01", "2026-07-22"]
event_labels = ["Mon 17 Jul '23", "Wed 13 Mar '24", "Thu 11 Jul '24", "Wed 29 Jan '25",
                "Mon 27 Oct '25", "Wed 25 Feb '26", "Mon 01 Jun '26", "Wed 22 Jul '26"]
event_kind = ["red", "red", "purple", "purple", "red", "red", "red", "red"]

# small event dot on the SPX line
flag_dates = ["2025-11-29"]
flag_values = [6711]

spx_ticks = [4000, 4400, 4800, 5200, 5600, 6000, 6400, 6800, 7200, 7600]
spx_bold = [4000, 6000]
dspx_ticks = [-16, -12, -8, -4, 0, 4, 8, 12, 16, 20, 24, 28, 32, 36, 40, 44]
dspx_bold = [0, 20, 40]
rsi_ticks = [20, 40, 60, 80]
time_ticks = ["2023-07-01", "2024-01-01", "2024-07-01", "2025-01-01",
              "2025-07-01", "2026-01-01", "2026-07-01", "2027-01-01"]
# labels fully covered by the date tags are left blank
time_labels = ["", "2024", "", "", "Jul", "", "", "2027"]

header = "Jay1104 created with TradingView.com, Aug 05, 2026 16:07 UTC-4"
dspx_name, dspx_quote = "DSPX-COR3M · 1D · CBOE", "31.18  −1.86 (−5.63%)"
spx_name, spx_quote = "SPX · SPCFD", "7,723.55  −12.97 (−0.17%)"
countdown = "07:35"

# ---------------------------------------------------------------- style
plt.rcParams["font.family"] = ["Liberation Sans", "DejaVu Sans"]
RED, PURPLE, BLUE, YELLOW = "#f23645", "#7e57c2", "#2f7cf6", "#fdd835"
GRID = "#ebebee"
AX_TXT = "#5d606b"
BOLD_TXT = "#434651"
FS = 15.5
AXFS = 17.2

W, H = 2560, 1548
fig = plt.figure(figsize=(W / 100, H / 100), dpi=100)
PIX = IdentityTransform()

L, R, TOP, MID, BOT, BASE = 147, 2435, 49, 990, 1391, 1437
FL, FR = 18, 2542


def num(v):
    return f"{v:,.2f}".replace("-", "\u2212")


def ptext(x, y, s, **kw):
    kw.setdefault("size", FS)
    return fig.text(x, H - y, s, transform=PIX, **kw)


def chain(prev, s, gap=8, **kw):
    kw.setdefault("size", FS)
    a = Annotation(s, xy=(1, 0), xycoords=prev, xytext=(gap, 0),
                   textcoords="offset points", ha="left", va="bottom", **kw)
    fig.add_artist(a)
    return a


def pline(xs, ys, **kw):
    fig.add_artist(Line2D(xs, [H - y for y in ys], transform=PIX, **kw))


def pbox(x0, y0, x1, y1, r=0, **kw):
    p = FancyBboxPatch((x0, H - y1), x1 - x0, y1 - y0,
                       boxstyle=f"round,pad=0,rounding_size={r}", transform=PIX, **kw)
    fig.add_artist(p)
    return p


ax = fig.add_axes([L / W, 1 - MID / H, (R - L) / W, (MID - TOP) / H])
ax_spx = ax.twinx()
ax_rsi = fig.add_axes([L / W, 1 - BOT / H, (R - L) / W, (BOT - MID) / H], sharex=ax)

dspx = pd.Series(dspx_values, index=pd.to_datetime(dspx_dates)).sort_index(kind="stable")
spx = pd.Series(spx_values, index=pd.to_datetime(spx_dates)).sort_index(kind="stable")
rsi = pd.Series(rsi_values, index=pd.to_datetime(rsi_dates)).sort_index(kind="stable")
rsi_ma = pd.Series(rsi_ma_values, index=pd.to_datetime(rsi_ma_dates)).sort_index(kind="stable")

x0, x1 = pd.Timestamp("2023-04-04 07:00"), pd.Timestamp("2027-02-24")
ax.set_xlim(x0, x1)
ax.set_ylim(-16.38, 46.04)
ax_spx.set_ylim(3686, 8178)
ax_rsi.set_ylim(11.98, 86.7)

for a in (ax, ax_spx, ax_rsi):
    for sp in a.spines.values():
        sp.set_visible(False)
    a.set_facecolor("none")

# x grid / ticks
ax.set_xticks(pd.to_datetime(time_ticks))
ax_rsi.set_xticklabels(time_labels)
ax.tick_params(axis="x", length=0, labelbottom=False)
ax_rsi.tick_params(axis="x", length=0, pad=9.5, labelsize=17, labelcolor="#2a2e39")
for lbl in ax_rsi.get_xticklabels():
    if lbl.get_text().isdigit():
        lbl.set_fontweight("bold")
ax.grid(axis="x", color=GRID, lw=1.4, zorder=0)
ax_rsi.grid(axis="x", color=GRID, lw=1.4, zorder=0)

# right scale: DSPX
ax.yaxis.tick_right()
ax.set_yticks(dspx_ticks)
ax.set_yticklabels([num(v) if v != 44 else "" for v in dspx_ticks])
ax.tick_params(axis="y", length=0, pad=11, labelsize=AXFS, labelcolor=AX_TXT)
for v, lbl in zip(dspx_ticks, ax.get_yticklabels()):
    if v in dspx_bold:
        lbl.set_fontweight("bold")
        lbl.set_color(BOLD_TXT)
ax.grid(axis="y", color=GRID, lw=1.4, zorder=0)
ax.set_axisbelow(True)

# left scale: SPX
ax_spx.yaxis.tick_left()
ax_spx.set_yticks(spx_ticks)
ax_spx.set_yticklabels([num(v) for v in spx_ticks])
ax_spx.tick_params(axis="y", length=0, pad=11, labelsize=AXFS, labelcolor=AX_TXT)
for v, lbl in zip(spx_ticks, ax_spx.get_yticklabels()):
    if v in spx_bold:
        lbl.set_fontweight("bold")
        lbl.set_color(BOLD_TXT)
ax_spx.tick_params(axis="x", length=0, labelbottom=False)

# RSI scale (the 40 label sits under the last-value tag, as in the screenshot)
ax_rsi.yaxis.tick_right()
ax_rsi.set_yticks(rsi_ticks)
ax_rsi.set_yticklabels([num(v) if v != 40 else "" for v in rsi_ticks])
ax_rsi.tick_params(axis="y", length=0, pad=11, labelsize=AXFS, labelcolor=AX_TXT)
ax_rsi.grid(axis="y", color=GRID, lw=1.4, zorder=0)
ax_rsi.set_axisbelow(True)

# event lines
dash = (0, (6.5, 3.3))
for d, k in zip(event_dates, event_kind):
    c = RED if k == "red" else PURPLE
    for a in (ax, ax_rsi):
        a.axvline(pd.Timestamp(d), color=c, lw=2.2, ls=dash, zorder=1)

# main series
ax.axhline(dspx.iloc[-1], color="#131722", lw=1.4, ls=(0, (1, 3.2)), zorder=2)
ax.plot(dspx.index, dspx.values, color="#000000", lw=1.3, zorder=3)
ax.plot(dspx.index[-1], dspx.iloc[-1], "o", color="#000000", ms=5.5, zorder=4)
ax_spx.plot(spx.index, spx.values, color=BLUE, lw=2.9, zorder=3,
            solid_joinstyle="round", solid_capstyle="round")
ax_spx.plot(spx.index[-1], spx.iloc[-1], "o", color=BLUE, ms=4.5, zorder=4)
ax_spx.plot(pd.to_datetime(flag_dates), flag_values, "o", color=RED, ms=4.5, zorder=4)

# RSI panel
ax_rsi.axhspan(30, 70, color=PURPLE, alpha=0.1, lw=0, zorder=0)
ax_rsi.axhline(70, color="#787b86", lw=1.4, ls=(0, (4.5, 3)), zorder=1)
ax_rsi.axhline(30, color="#787b86", lw=1.4, ls=(0, (4.5, 3)), zorder=1)
ax_rsi.axhline(50, color="#b8bbc4", lw=1.4, ls=(0, (4.5, 3)), zorder=1)
rv = rsi.values
ax_rsi.fill_between(rsi.index, rv, 70, where=rv > 70, interpolate=True,
                    color="#4caf50", alpha=0.15, lw=0, zorder=1)
ax_rsi.fill_between(rsi.index, rv, 30, where=rv < 30, interpolate=True,
                    color=RED, alpha=0.12, lw=0, zorder=1)
ax_rsi.plot(rsi.index, rv, color=PURPLE, lw=1.4, zorder=3)
ax_rsi.plot(rsi_ma.index, rsi_ma.values, color=YELLOW, lw=1.4, zorder=4)

# ---------------------------------------------------------------- frame
pline([FL, FR, FR, FL, FL], [TOP, TOP, BASE, BASE, TOP], color="#e0e3eb", lw=1.2, zorder=2)
pline([FL, FR], [MID + 1, MID + 1], color="#e0e3eb", lw=1.5, zorder=2)
pline([FL, FR], [BOT, BOT], color="#6a6d78", lw=2.8, zorder=2)
pline([L, L], [TOP, BASE], color="#50535e", lw=1.1, zorder=2)
pline([R, R], [TOP, BASE], color="#50535e", lw=1.1, zorder=2)

ptext(FL, 29, header, color="#131722", va="center", size=16.5)

# legends
t = ptext(162, 77, dspx_name, color="#50535e", va="center")
chain(t, dspx_quote, color="#131722")
t = ptext(162, 108, spx_name, color="#50535e", va="center")
chain(t, spx_quote, color=BLUE)
t = ptext(162, 1022, "RSI (14, close)", color="#50535e", va="center")
t = chain(t, f"{rsi.iloc[-1]:.2f}", gap=12, color=PURPLE)
chain(t, f"{rsi_ma.iloc[-1]:.2f}", gap=11, color="#f7cb1c")

# unit boxes
pbox(26, 55, 139, 102, r=8, fc="white", ec="#e0e3eb", lw=1.2, zorder=6)
ptext(42, 79, "USD", color="#131722", va="center", size=16.5, zorder=7)
pbox(2444, 56, 2538, 102, r=8, fc="white", ec="#e0e3eb", lw=1.2, zorder=6)
ptext(2491, 78, "point", color="#131722", va="center", ha="center", size=16.5, zorder=7)


def ypix(a, v):
    return H - a.transData.transform((0, v))[1]


# last value tags
y = ypix(ax_spx, spx.iloc[-1])
pbox(28, y - 14, 145, y + 14, r=3, fc=BLUE, ec="none", zorder=6)
ptext(86, y, num(spx.iloc[-1]), color="white", ha="center", va="center", size=16.5, zorder=7)

y = ypix(ax, dspx.iloc[-1])
pbox(2438, y - 14, 2522, y + 41, r=4, fc="#000000", ec="none", zorder=6)
ptext(2452, y + 1, f"{dspx.iloc[-1]:.2f}", color="white", va="center", size=AXFS, zorder=7)
ptext(2452, y + 26, countdown, color="#c9cbd1", va="center", size=AXFS, zorder=7)

y = ypix(ax_rsi, rsi_ma.iloc[-1])
pbox(2436, y - 15, 2521, y + 15, r=4, fc=YELLOW, ec="none", zorder=6)
ptext(2451, y, f"{rsi_ma.iloc[-1]:.2f}", color="#131722", va="center", size=AXFS, zorder=7)
y = ypix(ax_rsi, rsi.iloc[-1])
pbox(2436, y - 15, 2521, y + 15, r=4, fc=PURPLE, ec="none", zorder=6)
ptext(2451, y, f"{rsi.iloc[-1]:.2f}", color="white", va="center", size=AXFS, zorder=7)

# date tags on the time scale
renderer = fig.canvas.get_renderer()
for i, (d, lab, k) in enumerate(zip(event_dates, event_labels, event_kind)):
    xd = ax.transData.transform((mdates.date2num(pd.Timestamp(d)), 0))[0]
    txt = ptext(xd, 1416, lab, color="white", ha="center", va="center", size=17,
                zorder=11 + 2 * i)
    w = txt.get_window_extent(renderer).width
    fig.add_artist(Rectangle((xd - w / 2 - 16, H - 1436), w + 32, 44, transform=PIX,
                             color=RED if k == "red" else PURPLE, lw=0, zorder=10 + 2 * i))

# scale buttons
for cx, s in ((82, "Z"), (2489, "A")):
    fig.add_artist(Circle((cx, H - 1416), 16, transform=PIX, color="#f0f3fa", zorder=6))
    ptext(cx, 1416, s, color="#50535e", ha="center", va="center", size=13, zorder=7)

# TradingView logo
logo = [
    [(21, 1480), (41, 1480), (41, 1507), (31, 1507), (31, 1490), (21, 1490)],
    [(56, 1480), (74, 1480), (62, 1507), (50, 1507), (58, 1490), (56, 1490)],
]
for pts in logo:
    fig.add_artist(Polygon([(x, H - y) for x, y in pts], closed=True, transform=PIX,
                           color="#131722", lw=0, zorder=6))
fig.add_artist(Circle((48.5, H - 1485), 5, transform=PIX, color="#131722", zorder=6))
ptext(84, 1494, "TradingView", color="#131722", va="center", size=25, weight="bold")

fig.savefig("out.png", dpi=100, facecolor="white")
